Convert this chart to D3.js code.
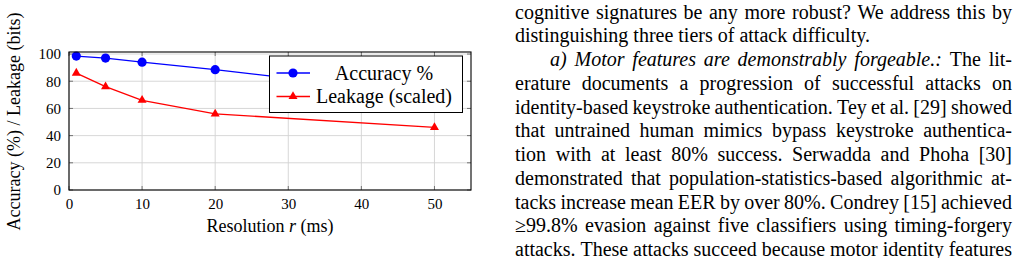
<!DOCTYPE html>
<html><head><meta charset="utf-8">
<script src="https://cdn.jsdelivr.net/npm/d3@7"></script>
<style>
html,body{margin:0;padding:0;background:#fff;}
svg{display:block;}
</style></head>
<body>
<svg id="c" width="1019" height="258"></svg>
<script>
// ---- data ----
const resolution = [1, 5, 10, 20, 50];
const accuracy = [98.5, 97, 94, 88.5, 70];
const leakage = [86, 76, 66, 56, 46];
const xTicks = [0, 10, 20, 30, 40, 50];
const yTicks = [0, 20, 40, 60, 80, 100];
const seriesNames = ["Accuracy %", "Leakage (scaled)"];
const xLabel = "Resolution";
const yLabel = "Accuracy (%) / Leakage (bits)";

const textLines = [
  {parts:[{t:"cognitive signatures be any more robust? We address this by"}], justify:true},
  {parts:[{t:"distinguishing three tiers of attack difficulty."}], justify:false},
  {parts:[{t:"a) Motor features are demonstrably forgeable.:", i:true},{t:"The lit-"}], justify:true, indent:true},
  {parts:[{t:"erature documents a progression of successful attacks on"}], justify:true},
  {parts:[{t:"identity-based keystroke authentication. Tey et al. [29] showed"}], justify:true},
  {parts:[{t:"that untrained human mimics bypass keystroke authentica-"}], justify:true},
  {parts:[{t:"tion with at least 80% success. Serwadda and Phoha [30]"}], justify:true},
  {parts:[{t:"demonstrated that population-statistics-based algorithmic at-"}], justify:true},
  {parts:[{t:"tacks increase mean EER by over 80%. Condrey [15] achieved"}], justify:true},
  {parts:[{t:"≥99.8% evasion against five classifiers using timing-forgery"}], justify:true},
  {parts:[{t:"attacks. These attacks succeed because motor identity features"}], justify:true}
];

const FONT = "Liberation Serif";
const svg = d3.select("#c").style("font-family", FONT);
const W = 69, E = 471, T = 52, B = 190;
const x = d3.scaleLinear().domain([0, 55]).range([W, E]);
const y = d3.scaleLinear().domain([0, 101.5]).range([B, T]);

const g = svg.append("g");
g.selectAll(".gx").data(xTicks).join("line")
  .attr("x1", d => x(d)).attr("x2", d => x(d)).attr("y1", T).attr("y2", B)
  .attr("stroke", "#d2d2d2").attr("stroke-width", 0.9);
g.selectAll(".gy").data(yTicks).join("line")
  .attr("y1", d => y(d)).attr("y2", d => y(d)).attr("x1", W).attr("x2", E)
  .attr("stroke", "#d2d2d2").attr("stroke-width", 0.9);
const tl = 4;
xTicks.forEach(d => {
  g.append("line").attr("x1", x(d)).attr("x2", x(d)).attr("y1", B).attr("y2", B - tl).attr("stroke", "#666").attr("stroke-width", 0.9);
  g.append("line").attr("x1", x(d)).attr("x2", x(d)).attr("y1", T).attr("y2", T + tl).attr("stroke", "#666").attr("stroke-width", 0.9);
});
yTicks.forEach(d => {
  g.append("line").attr("y1", y(d)).attr("y2", y(d)).attr("x1", W).attr("x2", W + tl).attr("stroke", "#666").attr("stroke-width", 0.9);
  g.append("line").attr("y1", y(d)).attr("y2", y(d)).attr("x1", E).attr("x2", E - tl).attr("stroke", "#666").attr("stroke-width", 0.9);
});
const xAxis = d3.axisBottom(x).tickValues(xTicks).tickSize(0).tickPadding(8);
const yAxis = d3.axisLeft(y).tickValues(yTicks).tickSize(0).tickPadding(8);
const gx = g.append("g").attr("transform", `translate(0,${B})`).call(xAxis);
const gy = g.append("g").attr("transform", `translate(${W},0)`).call(yAxis);
[gx, gy].forEach(a => {
  a.attr("font-family", null);
  a.select(".domain").remove();
  a.selectAll("text").style("font-family", FONT).attr("font-size", 15).attr("fill", "#000");
});
gx.selectAll("text").attr("dy", "0.72em");

const line = d3.line().x((d, i) => x(resolution[i])).y(d => y(d));
function tri(r) { const c = r * Math.cos(Math.PI / 6); return `M0,${-r}L${c},${r/2}L${-c},${r/2}Z`; }

g.append("path").datum(accuracy).attr("d", line).attr("fill", "none").attr("stroke", "#0000ff").attr("stroke-width", 1.3);
g.selectAll(".pa").data(accuracy).join("circle")
  .attr("cx", (d, i) => x(resolution[i])).attr("cy", d => y(d)).attr("r", 4.6).attr("fill", "#0000ff");
g.append("path").datum(leakage).attr("d", line).attr("fill", "none").attr("stroke", "#ff0000").attr("stroke-width", 1.3);
g.selectAll(".pl").data(leakage).join("path")
  .attr("transform", (d, i) => `translate(${x(resolution[i])},${y(d)})`).attr("d", tri(5.2)).attr("fill", "#ff0000");

g.append("rect").attr("x", W).attr("y", T).attr("width", E - W).attr("height", B - T)
  .attr("fill", "none").attr("stroke", "#000").attr("stroke-width", 1.1);

const lg = g.append("g");
lg.append("rect").attr("x", 269.5).attr("y", 56).attr("width", 193).attr("height", 56.5)
  .attr("fill", "#fff").attr("stroke", "#000").attr("stroke-width", 1);
const legRows = [{name: seriesNames[0], color: "#0000ff", m: "c", yy: 73},
                 {name: seriesNames[1], color: "#ff0000", m: "t", yy: 96.5}];
legRows.forEach(r => {
  lg.append("line").attr("x1", 276.5).attr("x2", 310).attr("y1", r.yy).attr("y2", r.yy).attr("stroke", r.color).attr("stroke-width", 1.3);
  if (r.m === "c") lg.append("circle").attr("cx", 293).attr("cy", r.yy).attr("r", 4.6).attr("fill", r.color);
  else lg.append("path").attr("transform", `translate(293,${r.yy})`).attr("d", tri(5.2)).attr("fill", r.color);
  lg.append("text").attr("x", 384).attr("y", r.yy).attr("dy", "0.33em").attr("text-anchor", "middle")
    .attr("font-size", 20).text(r.name);
});

const xl = g.append("text").attr("x", (W + E) / 2).attr("y", 232).attr("text-anchor", "middle").attr("font-size", 18);
xl.append("tspan").text(xLabel + " ");
xl.append("tspan").attr("font-style", "italic").text("r");
xl.append("tspan").text(" (ms)");
g.append("text").attr("transform", "translate(20,121.5) rotate(-90)").attr("text-anchor", "middle")
  .attr("font-size", 18).text(yLabel);

const TX0 = 515, TX1 = 1012, FS = 20, LH = 23.75, BL0 = 18.6, IND = 35;
const tg = svg.append("g").attr("font-size", FS).attr("fill", "#000");
const meas = tg.append("text").attr("x", -1000).attr("y", -1000);
function wlen(w, it) { meas.attr("font-style", it ? "italic" : "normal").text(w); return meas.node().getComputedTextLength(); }
const spaceW = wlen("a a") - 2 * wlen("a");
textLines.forEach((ln, li) => {
  const words = [];
  ln.parts.forEach(p => p.t.split(" ").forEach(w => words.push({w, it: !!p.i})));
  words.forEach(o => o.len = wlen(o.w, o.it));
  const x0 = TX0 + (ln.indent ? IND : 0);
  const total = d3.sum(words, o => o.len);
  const gap = ln.justify && words.length > 1 ? (TX1 - x0 - total) / (words.length - 1) : spaceW;
  let cx = x0;
  const by = BL0 + LH * li;
  words.forEach(o => {
    tg.append("text").attr("x", cx).attr("y", by).attr("font-style", o.it ? "italic" : "normal").text(o.w);
    cx += o.len + gap;
  });
});
meas.remove();
</script>
</body></html>
